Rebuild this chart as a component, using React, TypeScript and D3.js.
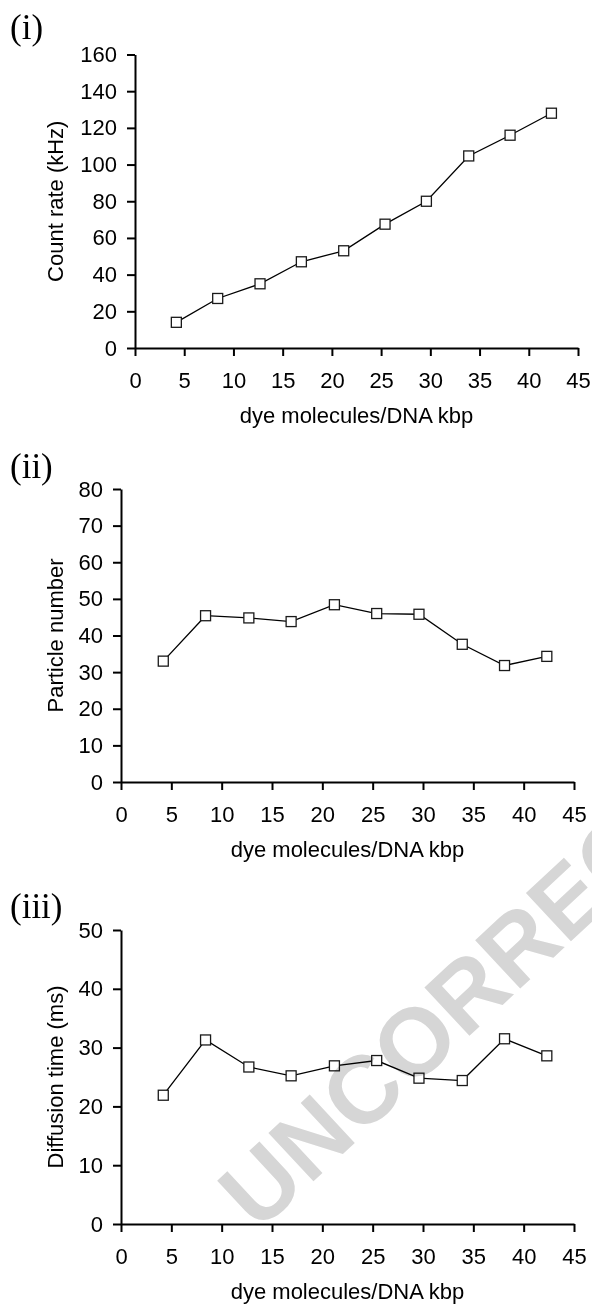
import React, { useEffect, useRef } from 'react';
import * as d3 from 'd3';

// dye molecules per DNA kbp (shared by all three panels)
const dyeLoading = [4.2, 8.4, 12.7, 16.9, 21.2, 25.4, 29.6, 33.9, 38.1, 42.3];
const countRate = [14, 27, 35, 47, 53, 67.5, 80, 104.7, 116, 128];
const particleNumber = [33, 45.4, 44.8, 43.8, 48.4, 46, 45.8, 37.6, 31.8, 34.3];
const diffusionTime = [21.9, 31.3, 26.7, 25.2, 26.9, 27.8, 24.8, 24.4, 31.5, 28.6];

const xTicks = [0, 5, 10, 15, 20, 25, 30, 35, 40, 45];
const xTitle = 'dye molecules/DNA kbp';

const panels = [
  { tag: '(i)', yLabel: 'Count rate (kHz)', values: countRate, yMax: 160, yStep: 20,
    left: 135, right: 578, top: 54.5, bottom: 348, tagY: 39 },
  { tag: '(ii)', yLabel: 'Particle number', values: particleNumber, yMax: 80, yStep: 10,
    left: 121, right: 574, top: 489, bottom: 782, tagY: 478 },
  { tag: '(iii)', yLabel: 'Diffusion time (ms)', values: diffusionTime, yMax: 50, yStep: 10,
    left: 121, right: 574, top: 930, bottom: 1224, tagY: 918 },
];

const SANS = '"Liberation Sans", Arial, sans-serif';
const SERIF = '"Liberation Serif", "Times New Roman", serif';

const App = () => {
  const svgRef = useRef(null);

  useEffect(() => {
    const svg = d3.select(svgRef.current);
    svg.selectAll('*').remove();

    panels.forEach(p => {
      const x = d3.scaleLinear().domain([0, 45]).range([p.left, p.right]);
      const y = d3.scaleLinear().domain([0, p.yMax]).range([p.bottom, p.top]);
      const g = svg.append('g');

      // x axis
      const xa = g.append('g')
        .attr('transform', `translate(0,${p.bottom})`)
        .call(d3.axisBottom(x).tickValues(xTicks).tickSize(8).tickSizeOuter(0).tickPadding(16.5));
      // y axis
      const ya = g.append('g')
        .attr('transform', `translate(${p.left},0)`)
        .call(d3.axisLeft(y).tickValues(d3.range(0, p.yMax + 1, p.yStep)).tickSize(8).tickSizeOuter(0).tickPadding(10));

      [xa, ya].forEach(a => {
        a.select('.domain').attr('stroke', '#000').attr('stroke-width', 2);
        a.selectAll('.tick line').attr('stroke', '#000').attr('stroke-width', 2);
        a.selectAll('.tick text')
          .attr('fill', '#000')
          .style('font-family', SANS)
          .style('font-size', '22px');
      });

      const line = d3.line()
        .x((d, i) => x(dyeLoading[i]))
        .y(d => y(d));

      g.append('path')
        .datum(p.values)
        .attr('d', line)
        .attr('fill', 'none')
        .attr('stroke', '#000')
        .attr('stroke-width', 1.3);

      g.selectAll('rect.pt')
        .data(p.values)
        .enter().append('rect')
        .attr('class', 'pt')
        .attr('x', (d, i) => x(dyeLoading[i]) - 5)
        .attr('y', d => y(d) - 5)
        .attr('width', 10)
        .attr('height', 10)
        .attr('fill', '#fff')
        .attr('stroke', '#1a1a1a')
        .attr('stroke-width', 1.3);

      g.append('text')
        .attr('x', (p.left + p.right) / 2)
        .attr('y', p.bottom + 75)
        .attr('text-anchor', 'middle')
        .style('font-family', SANS)
        .style('font-size', '22px')
        .text(xTitle);

      g.append('text')
        .attr('transform', `translate(55,${(p.top + p.bottom) / 2}) rotate(-90)`)
        .attr('text-anchor', 'middle')
        .attr('dy', '0.36em')
        .style('font-family', SANS)
        .style('font-size', '22px')
        .text(p.yLabel);

      g.append('text')
        .attr('x', 10)
        .attr('y', p.tagY)
        .style('font-family', SERIF)
        .style('font-size', '35px')
        .text(p.tag);
    });

    // proof watermark laid over the bottom panel
    svg.append('text')
      .attr('transform', 'translate(258,1233) rotate(-43)')
      .style('font-family', SANS)
      .style('font-weight', 'bold')
      .style('font-size', '96px')
      .style('mix-blend-mode', 'multiply')
      .attr('fill', '#d6d6d6')
      .text('UNCORRECTED');
  }, []);

  return (
    <svg ref={svgRef} width="592" height="1305"
      style={{ position: 'absolute', left: 0, top: 0, background: '#fff' }} />
  );
};

export default App;
